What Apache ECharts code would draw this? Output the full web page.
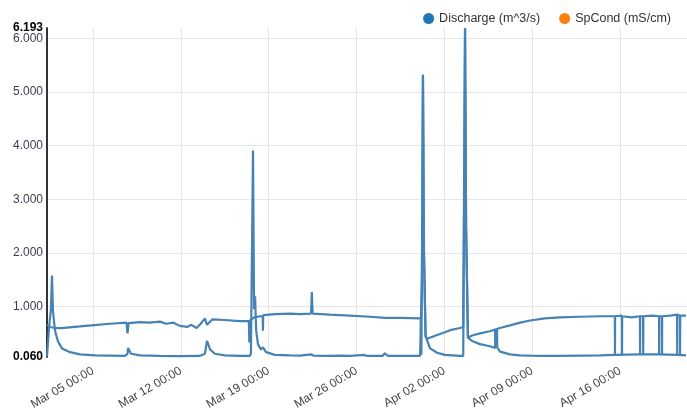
<!DOCTYPE html>
<html>
<head>
<meta charset="utf-8">
<script src="https://cdn.jsdelivr.net/npm/echarts@6/dist/echarts.min.js"></script>
<style>
  html, body { margin: 0; padding: 0; background: #fff; }
  #chart { width: 687px; height: 414px; }
</style>
</head>
<body>
<div id="chart"></div>
<script>
// discharge record, split in the two traces the logger wrote (base flow and the upper channel)
var lowerFlow = [
  ['2015-03-01 08:00', 0.07], ['2015-03-01 12:00', 0.62], ['2015-03-01 15:30', 0.95],
  ['2015-03-01 17:30', 1.58], ['2015-03-01 19:30', 0.9], ['2015-03-01 23:20', 0.55],
  ['2015-03-02 05:00', 0.35], ['2015-03-02 12:45', 0.22], ['2015-03-03 04:00', 0.15],
  ['2015-03-03 23:00', 0.11], ['2015-03-05 04:00', 0.09], ['2015-03-06 08:30', 0.085],
  ['2015-03-07 13:00', 0.08], ['2015-03-07 18:00', 0.12], ['2015-03-07 19:00', 0.23],
  ['2015-03-08 00:40', 0.12], ['2015-03-08 18:00', 0.09], ['2015-03-10 08:00', 0.08],
  ['2015-03-11 22:00', 0.075], ['2015-03-13 12:00', 0.08], ['2015-03-13 22:00', 0.12],
  ['2015-03-14 02:00', 0.36], ['2015-03-14 08:00', 0.2], ['2015-03-14 17:00', 0.12],
  ['2015-03-15 12:00', 0.09], ['2015-03-16 17:00', 0.08], ['2015-03-17 12:00', 0.08],
  ['2015-03-17 14:00', 0.12], ['2015-03-17 18:00', 3.91], ['2015-03-17 20:00', 0.95],
  ['2015-03-17 22:00', 1.19], ['2015-03-18 00:00', 0.55], ['2015-03-18 03:30', 0.3],
  ['2015-03-18 09:00', 0.2], ['2015-03-18 13:00', 0.24], ['2015-03-18 19:00', 0.15],
  ['2015-03-19 12:00', 0.1], ['2015-03-20 17:00', 0.09], ['2015-03-21 12:00', 0.085],
  ['2015-03-22 09:00', 0.11], ['2015-03-22 14:00', 0.085], ['2015-03-23 21:00', 0.08],
  ['2015-03-24 16:00', 0.085], ['2015-03-25 12:00', 0.08], ['2015-03-26 14:00', 0.1],
  ['2015-03-26 20:00', 0.08], ['2015-03-28 02:00', 0.08], ['2015-03-28 06:00', 0.13],
  ['2015-03-28 12:00', 0.08], ['2015-03-29 11:00', 0.08], ['2015-03-31 01:30', 0.08],
  ['2015-03-31 05:00', 1.5], ['2015-03-31 07:00', 5.32], ['2015-03-31 09:00', 2.0],
  ['2015-03-31 12:00', 0.45], ['2015-03-31 20:30', 0.22], ['2015-04-01 10:00', 0.14],
  ['2015-04-02 01:00', 0.1], ['2015-04-03 06:00', 0.08], ['2015-04-03 12:00', 0.08],
  ['2015-04-03 13:30', 2.5], ['2015-04-03 15:30', 6.19], ['2015-04-03 17:30', 2.5],
  ['2015-04-03 21:00', 0.42], ['2015-04-04 05:00', 0.36], ['2015-04-04 20:00', 0.3],
  ['2015-04-05 15:00', 0.26], ['2015-04-06 01:00', 0.23], ['2015-04-06 04:30', 0.24],
  ['2015-04-06 04:45', 0.57], ['2015-04-06 05:00', 0.24], ['2015-04-06 10:30', 0.16],
  ['2015-04-07 05:30', 0.11], ['2015-04-08 01:00', 0.09], ['2015-04-08 20:00', 0.085],
  ['2015-04-10 00:00', 0.08], ['2015-04-11 05:00', 0.08], ['2015-04-12 19:00', 0.085],
  ['2015-04-14 10:00', 0.09], ['2015-04-15 14:00', 0.1], ['2015-04-17 14:00', 0.11],
  ['2015-04-19 04:00', 0.11], ['2015-04-20 15:00', 0.1], ['2015-04-21 06:00', 0.09]
];

var upperFlow = [
  ['2015-03-01 08:00', 0.66], ['2015-03-01 14:00', 0.62], ['2015-03-01 23:00', 0.6],
  ['2015-03-02 12:00', 0.6], ['2015-03-03 23:00', 0.63], ['2015-03-05 08:00', 0.66],
  ['2015-03-06 08:00', 0.68], ['2015-03-07 16:00', 0.7], ['2015-03-07 18:00', 0.5],
  ['2015-03-07 20:00', 0.69], ['2015-03-08 18:00', 0.71], ['2015-03-09 12:00', 0.7],
  ['2015-03-10 08:00', 0.72], ['2015-03-10 20:00', 0.68], ['2015-03-11 10:00', 0.7],
  ['2015-03-11 22:00', 0.64], ['2015-03-12 12:00', 0.62], ['2015-03-12 20:00', 0.66],
  ['2015-03-13 06:00', 0.6], ['2015-03-13 14:00', 0.68], ['2015-03-13 22:00', 0.78],
  ['2015-03-14 02:00', 0.66], ['2015-03-14 12:00', 0.76], ['2015-03-15 12:00', 0.75],
  ['2015-03-16 17:00', 0.73], ['2015-03-17 10:00', 0.73], ['2015-03-17 11:00', 0.33],
  ['2015-03-17 12:00', 0.74], ['2015-03-17 20:00', 0.8], ['2015-03-18 08:00', 0.82],
  ['2015-03-18 12:30', 0.82], ['2015-03-18 13:00', 0.55], ['2015-03-18 13:30', 0.84],
  ['2015-03-19 12:00', 0.86], ['2015-03-20 17:00', 0.87], ['2015-03-21 12:00', 0.86],
  ['2015-03-22 09:00', 0.87], ['2015-03-22 10:30', 1.27], ['2015-03-22 12:00', 0.87],
  ['2015-03-23 21:00', 0.85], ['2015-03-25 11:00', 0.83], ['2015-03-27 02:00', 0.81],
  ['2015-03-28 06:00', 0.79], ['2015-03-29 11:00', 0.79], ['2015-03-31 03:00', 0.78],
  ['2015-03-31 04:00', 0.1], ['2015-03-31 05:00', 1.5], ['2015-03-31 07:00', 5.32],
  ['2015-03-31 09:00', 2.0], ['2015-03-31 12:00', 0.45], ['2015-03-31 15:00', 0.4],
  ['2015-04-01 10:00', 0.47], ['2015-04-02 01:00', 0.52], ['2015-04-02 11:00', 0.56],
  ['2015-04-03 06:00', 0.6], ['2015-04-03 12:00', 0.62], ['2015-04-03 15:30', 6.19],
  ['2015-04-03 17:30', 2.5], ['2015-04-03 21:00', 0.42], ['2015-04-04 05:00', 0.46],
  ['2015-04-04 20:00', 0.5], ['2015-04-05 15:00', 0.54], ['2015-04-06 01:00', 0.57],
  ['2015-04-06 01:15', 0.24], ['2015-04-06 01:30', 0.57], ['2015-04-06 10:00', 0.6],
  ['2015-04-07 05:30', 0.65], ['2015-04-08 01:00', 0.7], ['2015-04-08 20:00', 0.74],
  ['2015-04-10 00:00', 0.78], ['2015-04-11 05:00', 0.8], ['2015-04-12 19:00', 0.81],
  ['2015-04-14 10:00', 0.82], ['2015-04-15 14:00', 0.82], ['2015-04-15 14:15', 0.1],
  ['2015-04-15 14:30', 0.82], ['2015-04-16 03:30', 0.83], ['2015-04-16 03:45', 0.1],
  ['2015-04-16 04:00', 0.82], ['2015-04-16 22:00', 0.8], ['2015-04-17 14:00', 0.82],
  ['2015-04-17 14:15', 0.1], ['2015-04-17 14:30', 0.82], ['2015-04-17 20:00', 0.82],
  ['2015-04-17 20:15', 0.1], ['2015-04-17 20:30', 0.82], ['2015-04-18 12:00', 0.83],
  ['2015-04-19 02:30', 0.82], ['2015-04-19 02:45', 0.1], ['2015-04-19 03:00', 0.82],
  ['2015-04-19 08:00', 0.82], ['2015-04-19 08:15', 0.1], ['2015-04-19 08:30', 0.82],
  ['2015-04-20 00:00', 0.83], ['2015-04-20 13:00', 0.85], ['2015-04-20 13:15', 0.1],
  ['2015-04-20 13:30', 0.85], ['2015-04-20 18:30', 0.83], ['2015-04-20 18:45', 0.1],
  ['2015-04-20 19:00', 0.83], ['2015-04-21 06:00', 0.83]
];

var spCond = [];

var xTicks = ['2015-03-05 00:00', '2015-03-12 00:00', '2015-03-19 00:00', '2015-03-26 00:00',
  '2015-04-02 00:00', '2015-04-09 00:00', '2015-04-16 00:00'];
var xRange = ['2015-03-01 08:00', '2015-04-21 08:00'];
var yTicks = [1, 2, 3, 4, 5, 6];
var yMin = 0.06;
var yMax = 6.193;

var months = ['Jan', 'Feb', 'Mar', 'Apr', 'May', 'Jun', 'Jul', 'Aug', 'Sep', 'Oct', 'Nov', 'Dec'];

function toTime(s) {
  var p = s.split(/[- :]/);
  return new Date(+p[0], p[1] - 1, +p[2], +p[3], +p[4]).getTime();
}
function pad(n) {
  return n < 10 ? '0' + n : '' + n;
}
function toPoints(list) {
  return list.map(function(d) { return [toTime(d[0]), d[1]]; });
}

var font = '"Liberation Sans", Arial, sans-serif';
var lineColor = '#4682b4';

var chart = echarts.init(document.getElementById('chart'), null, {renderer: 'canvas'});

var lineSeries = function(data) {
  return {
    name: 'Discharge (m^3/s)',
    type: 'line',
    data: toPoints(data),
    showSymbol: false,
    symbol: 'none',
    itemStyle: {color: '#1f77b4'},
    lineStyle: {color: lineColor, width: 2.2},
    emphasis: {disabled: true}
  };
};

// the extent labels (0.060 / 6.193) sit on their own overlaid axis so they
// are not dropped for overlapping the 6.000 label
chart.setOption({
  animation: false,
  backgroundColor: '#fff',
  legend: {
    right: 11,
    top: 7,
    itemWidth: 11,
    itemHeight: 11,
    itemGap: 19,
    icon: 'circle',
    textStyle: {fontFamily: font, fontSize: 12.5, color: '#333'},
    data: [
      {name: 'Discharge (m^3/s)', itemStyle: {color: '#1f77b4'}},
      {name: 'SpCond (mS/cm)', itemStyle: {color: '#ff7f0e'}}
    ]
  },
  grid: {left: 47, right: 0, top: 28, bottom: 57},
  xAxis: {
    // plain value axis over timestamps, weekly ticks given explicitly
    type: 'value',
    min: toTime(xRange[0]),
    max: toTime(xRange[1]),
    axisLine: {show: false},
    axisTick: {show: false, customValues: xTicks.map(toTime)},
    splitLine: {show: true, lineStyle: {color: '#e6e6e6', width: 1}},
    axisLabel: {
      customValues: xTicks.map(toTime),
      rotate: 30,
      margin: 13,
      color: '#444',
      fontFamily: font,
      fontSize: 12,
      formatter: function(v) {
        var d = new Date(v);
        return months[d.getMonth()] + ' ' + pad(d.getDate()) + ' ' +
          pad(d.getHours()) + ':' + pad(d.getMinutes());
      }
    }
  },
  yAxis: [{
    type: 'value',
    min: yMin,
    max: yMax,
    axisLine: {show: true, lineStyle: {color: '#333', width: 2}},
    axisTick: {show: false, customValues: yTicks},
    splitLine: {show: true, lineStyle: {color: '#e6e6e6', width: 1}},
    axisLabel: {
      customValues: yTicks,
      hideOverlap: false,
      margin: 4,
      color: '#3c3c4c',
      fontFamily: font,
      fontSize: 12,
      formatter: function(v) { return v.toFixed(3); }
    }
  }, {
    type: 'value',
    position: 'left',
    min: yMin,
    max: yMax,
    axisLine: {show: false},
    axisTick: {show: false},
    splitLine: {show: false},
    axisLabel: {
      customValues: [yMin, yMax],
      showMinLabel: true,
      showMaxLabel: true,
      hideOverlap: false,
      margin: 4,
      color: '#000',
      fontWeight: 'bold',
      fontFamily: font,
      fontSize: 12,
      formatter: function(v) { return v.toFixed(3); }
    }
  }],
  series: [
    lineSeries(lowerFlow),
    lineSeries(upperFlow),
    {
      name: 'SpCond (mS/cm)',
      type: 'line',
      data: toPoints(spCond),
      showSymbol: false,
      itemStyle: {color: '#ff7f0e'},
      lineStyle: {color: '#ff7f0e'}
    }
  ]
});
</script>
</body>
</html>
